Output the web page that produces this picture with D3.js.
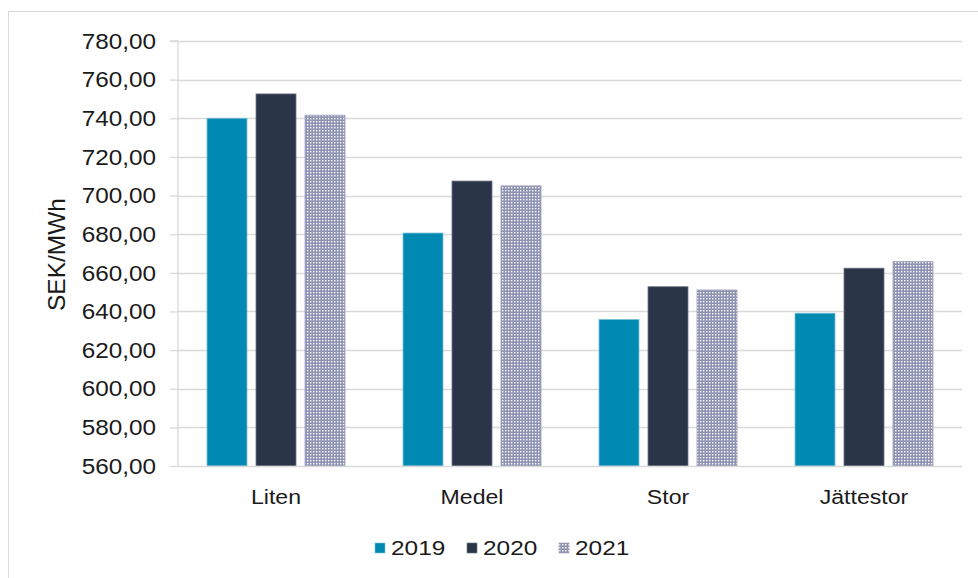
<!DOCTYPE html>
<html><head><meta charset="utf-8">
<script src="https://cdn.jsdelivr.net/npm/d3@7"></script>
<style>body{margin:0;background:#fff}svg{display:block}</style>
</head><body>
<script>
const categories = ["Liten", "Medel", "Stor", "Jättestor"];
const seriesNames = ["2019", "2020", "2021"];
const values2019 = [740.0, 680.6, 635.9, 639.1];
const values2020 = [752.6, 707.5, 652.8, 662.4];
const values2021 = [741.6, 705.0, 651.1, 665.8];
const yTicks = [560, 580, 600, 620, 640, 660, 680, 700, 720, 740, 760, 780];
const yLabel = "SEK/MWh";

(function () {
const W = 978, H = 578;
const FONT = "Liberation Sans, Arial, sans-serif";
const svg = d3.select("body").append("svg").attr("width", W).attr("height", H);
const defs = svg.append("defs");
const pat = defs.append("pattern").attr("id", "dots").attr("patternUnits", "userSpaceOnUse")
  .attr("width", 3).attr("height", 3);
pat.append("rect").attr("width", 3).attr("height", 3).attr("fill", "#8f93b3");
pat.append("rect").attr("x", 1).attr("y", 1).attr("width", 1.4).attr("height", 1.4).attr("fill", "#ffffff");

const colors = ["#0089b3", "#2a3548", "url(#dots)"];
const strokes = ["#7cc0d6", "#6b7384", "#9a9cb8"];

svg.append("rect").attr("x", 8.5).attr("y", 11.5).attr("width", 1000).attr("height", 600)
  .attr("fill", "none").attr("stroke", "#d9d9d9");

const pL = 178, pR = 962, pT = 41, pB = 466;
const y = d3.scaleLinear().domain([560, 780]).range([pB, pT]);
const x0 = d3.scaleBand().domain(categories).range([pL, pR]).paddingInner(0.296).paddingOuter(0.148);
const x1 = d3.scaleBand().domain(seriesNames).range([0, x0.bandwidth()]).paddingInner(0.184);

const data = [values2019, values2020, values2021];

svg.append("g").selectAll("line").data(yTicks.filter(t => t !== 560)).join("line")
  .attr("x1", pL).attr("x2", pR).attr("y1", d => Math.round(y(d)) + 0.5).attr("y2", d => Math.round(y(d)) + 0.5)
  .attr("stroke", "#d9d9d9").attr("stroke-width", 1.3);

const sxT = 1.08;
const yAxis = d3.axisLeft(y).tickValues(yTicks).tickSize(8).tickPadding(22)
  .tickFormat(d => d3.format(".2f")(d).replace(".", ","));
const gy = svg.append("g").attr("transform", `translate(${pL},0)`).call(yAxis);
gy.select(".domain").attr("stroke", "#d9d9d9").attr("stroke-width", 1.3).attr("d", `M-8,${pT}H0V${pB}`);
gy.selectAll(".tick line").attr("stroke", "#d9d9d9").attr("stroke-width", 1.3);
gy.selectAll("text").attr("font-family", FONT).attr("font-size", 22.5).attr("fill", "#1a1a1a")
  .attr("x", -22 / sxT).attr("transform", `scale(${sxT},1)`);

categories.forEach((c, i) => {
  seriesNames.forEach((s, j) => {
    svg.append("rect")
      .attr("x", x0(c) + x1(s)).attr("y", y(data[j][i]))
      .attr("width", x1.bandwidth()).attr("height", y(560) - y(data[j][i]))
      .attr("fill", colors[j]).attr("stroke", strokes[j]).attr("stroke-width", 0.8);
  });
});

svg.append("line").attr("x1", pL).attr("x2", pR).attr("y1", pB + 0.5).attr("y2", pB + 0.5)
  .attr("stroke", "#d9d9d9").attr("stroke-width", 1.5);
const sxC = 1.1;
const xAxis = d3.axisBottom(x0).tickSize(0).tickPadding(0);
const gx = svg.append("g").attr("transform", `translate(0,${pB})`).call(xAxis);
gx.select(".domain").remove();
gx.selectAll("text").attr("font-family", FONT).attr("font-size", 21).attr("fill", "#1a1a1a")
  .attr("dy", null).attr("y", 38).attr("transform", `scale(${sxC},1)`);

svg.append("text").attr("transform", `translate(65,${(pT + pB) / 2 + 1}) rotate(-90)`)
  .attr("text-anchor", "middle").attr("font-family", FONT)
  .attr("font-size", 24.5).attr("fill", "#1a1a1a").text(yLabel);

const legX = [375, 467, 559];
const sxL = 1.22;
const lg = svg.append("g");
seriesNames.forEach((s, j) => {
  lg.append("rect").attr("x", legX[j]).attr("y", 543).attr("width", 10).attr("height", 10)
    .attr("fill", colors[j]).attr("stroke", strokes[j]).attr("stroke-width", 0.6);
  lg.append("text").attr("transform", `translate(${legX[j] + 16},554.5) scale(${sxL},1)`)
    .attr("font-family", FONT).attr("font-size", 20).attr("fill", "#1a1a1a").text(s);
});
})();
</script>
</body></html>
